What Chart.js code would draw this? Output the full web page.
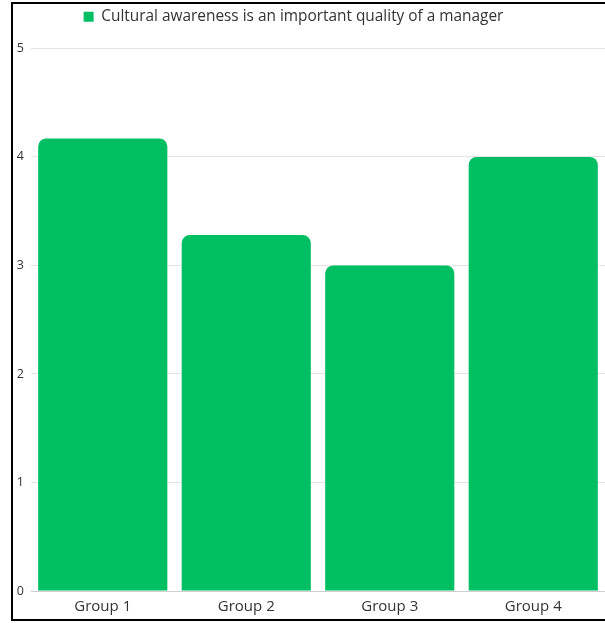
<!DOCTYPE html>
<html>
<head>
<meta charset="utf-8">
<script src="https://cdn.jsdelivr.net/npm/chart.js@4.4.1/dist/chart.umd.min.js"></script>
<style>
  html, body { margin: 0; padding: 0; background: #fff; overflow: hidden; }
  #wrap { position: relative; width: 605px; height: 623px; }
  #frame { position: absolute; left: 11px; top: 2px; width: 610px; height: 619px; border: 2px solid #000; box-sizing: border-box; pointer-events: none; }
  canvas { position: absolute; left: 0; top: 0; }
</style>
</head>
<body>
<div id="wrap">
  <canvas id="c" width="605" height="623"></canvas>
  <div id="frame"></div>
</div>
<script>
const categories = ["Group 1", "Group 2", "Group 3", "Group 4"];
const seriesName = "Cultural awareness is an important quality of a manager";
const seriesValues = [4.17, 3.28, 3.0, 4.0];
const yTicks = [0, 1, 2, 3, 4, 5];

const FONT = "'Open Sans', sans-serif";

const legendSpacer = {
  id: 'legendSpacer',
  afterInit(chart) {
    const lg = chart.legend;
    if (!lg) return;
    const origFit = lg.fit;
    lg.fit = function () { origFit.call(this); this.height += 14; };
    const origDraw = lg.draw;
    lg.draw = function (a) {
      const ctx = this.ctx;
      ctx.save();
      ctx.translate(-15, 0);
      origDraw.call(this, a);
      ctx.restore();
    };
  }
};

new Chart(document.getElementById('c'), {
  type: 'bar',
  data: {
    labels: categories,
    datasets: [{
      label: seriesName,
      data: seriesValues,
      backgroundColor: '#00BF63',
      borderRadius: 8,
      borderSkipped: 'start',
      categoryPercentage: 0.9,
      barPercentage: 1.0
    }]
  },
  plugins: [legendSpacer],
  options: {
    responsive: false,
    animation: false,
    layout: { padding: { left: 12, right: 0, top: 0, bottom: 0 } },
    plugins: {
      tooltip: { enabled: false },
      legend: {
        position: 'top',
        labels: {
          boxWidth: 10,
          boxHeight: 10,
          padding: 9,
          color: '#333',
          font: { family: FONT, size: 15.4 }
        }
      }
    },
    scales: {
      x: {
        grid: { display: false, drawTicks: false },
        border: { display: true, color: '#cfcfcf', width: 1 },
        ticks: { color: '#333', padding: 7, font: { family: FONT, size: 15 } }
      },
      y: {
        min: 0, max: 5,
        afterFit: (s) => { s.width = 19; },
        afterBuildTicks: (s) => { s.ticks = yTicks.map(v => ({ value: v })); },
        grid: { color: '#e4e4e4', drawTicks: false },
        border: { display: false },
        ticks: { color: '#333', padding: 7, font: { family: FONT, size: 12.5 } }
      }
    }
  }
});
</script>
</body>
</html>
